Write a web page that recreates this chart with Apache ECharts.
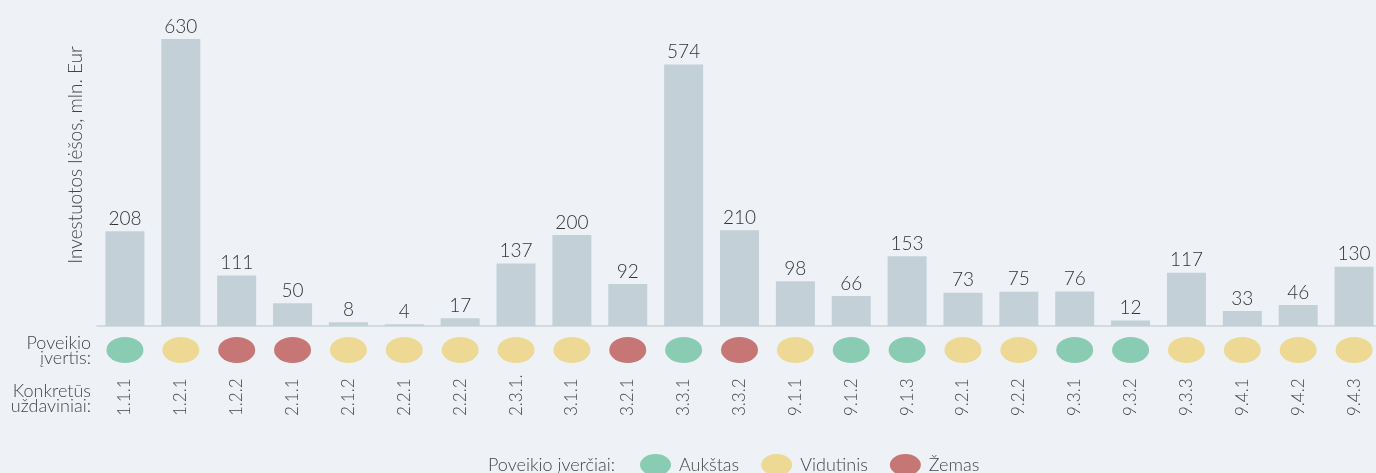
<!DOCTYPE html>
<html>
<head>
<meta charset="utf-8">
<script src="https://cdn.jsdelivr.net/npm/echarts@6/dist/echarts.min.js"></script>
<style>
  html, body { margin: 0; padding: 0; background: #eef2f7; }
  #chart { width: 1376px; height: 473px; }
</style>
</head>
<body>
<div id="chart"></div>
<script>
// uždaviniai (kategorijos)
var categories = ['1.1.1', '1.2.1', '1.2.2', '2.1.1', '2.1.2', '2.2.1', '2.2.2', '2.3.1.', '3.1.1', '3.2.1', '3.3.1',
  '3.3.2', '9.1.1', '9.1.2', '9.1.3', '9.2.1', '9.2.2', '9.3.1', '9.3.2', '9.3.3', '9.4.1', '9.4.2', '9.4.3'];
// investuotos lėšos, mln. Eur
var values = [208, 630, 111, 50, 8, 4, 17, 137, 200, 92, 574, 210, 98, 66, 153, 73, 75, 76, 12, 117, 33, 46, 130];
// poveikio įvertis: A - Aukštas, V - Vidutinis, Z - Žemas
var impact = ['A', 'V', 'Z', 'Z', 'V', 'V', 'V', 'V', 'V', 'Z', 'A', 'Z', 'V', 'A', 'A', 'V', 'V', 'A', 'A', 'V', 'V', 'V', 'V'];
var levels = [
  { key: 'A', name: 'Aukštas', color: '#8acbb3' },
  { key: 'V', name: 'Vidutinis', color: '#edd994' },
  { key: 'Z', name: 'Žemas', color: '#c67775' }
];

var FONT = 'Lato, "Noto Sans", sans-serif';
// elipsė (santykis ~1.41)
var ellipse = 'path://M0,35 A50,35 0 1,1 100,35 A50,35 0 1,1 0,35 Z';

var chart = echarts.init(document.getElementById('chart'));

// taškų serijos pagal poveikio lygį
var dotSeries = levels.map(function (lv) {
  return {
    name: lv.name,
    type: 'scatter',
    xAxisIndex: 1,
    yAxisIndex: 1,
    symbol: ellipse,
    symbolSize: [37, 26],
    symbolKeepAspect: false,
    itemStyle: { color: lv.color, opacity: 1 },
    silent: true,
    data: impact.map(function (k) { return k === lv.key ? 0 : '-'; })
  };
});

var option = {
  backgroundColor: '#eef2f7',
  animation: false,
  grid: [
    { left: 97, width: 1285, top: 39, bottom: 147, outerBoundsMode: 'none', containLabel: false },
    { left: 97, width: 1285, top: 337, height: 26, outerBoundsMode: 'none', containLabel: false }
  ],
  xAxis: [
    {
      type: 'category',
      gridIndex: 0,
      data: categories,
      axisLine: { show: true, lineStyle: { color: '#c8d3db', width: 1.5 } },
      axisTick: { show: false },
      axisLabel: {
        rotate: 90,
        align: 'left',
        verticalAlign: 'middle',
        margin: 90,
        fontSize: 17,
        fontWeight: 300,
        color: '#444',
        fontFamily: FONT,
        interval: 0
      }
    },
    {
      type: 'category',
      gridIndex: 1,
      data: categories,
      show: false
    }
  ],
  yAxis: [
    { type: 'value', gridIndex: 0, min: 0, max: 630, show: false, splitLine: { show: false } },
    { type: 'value', gridIndex: 1, min: -1, max: 1, show: false, splitLine: { show: false } }
  ],
  legend: {
    data: levels.map(function (lv) { return lv.name; }),
    left: 640,
    top: 454,
    padding: 0,
    icon: ellipse,
    itemWidth: 31,
    itemHeight: 22,
    itemGap: 22,
    textStyle: { fontSize: 18, fontWeight: 300, color: '#444', fontFamily: FONT, padding: [0, 0, 0, 3] }
  },
  graphic: [
    {
      type: 'text', x: 76, y: 155, rotation: Math.PI / 2,
      style: { text: 'Investuotos lėšos, mln. Eur', fill: '#444', fontSize: 19, fontWeight: 300, fontFamily: FONT,
               align: 'center', verticalAlign: 'middle' }
    },
    {
      type: 'text', x: 91, y: 336,
      style: { text: 'Poveikio\nįvertis:', fill: '#444', fontSize: 18, fontWeight: 300, fontFamily: FONT,
               align: 'right', verticalAlign: 'top', lineHeight: 15 }
    },
    {
      type: 'text', x: 91, y: 384,
      style: { text: 'Konkretūs\nuždaviniai:', fill: '#444', fontSize: 18, fontWeight: 300, fontFamily: FONT,
               align: 'right', verticalAlign: 'top', lineHeight: 15 }
    },
    {
      type: 'text', x: 488, y: 465,
      style: { text: 'Poveikio įverčiai:', fill: '#444', fontSize: 18, fontWeight: 300, fontFamily: FONT,
               align: 'left', verticalAlign: 'middle' }
    }
  ],
  series: [
    {
      name: 'Investuotos lėšos',
      type: 'bar',
      xAxisIndex: 0,
      yAxisIndex: 0,
      barWidth: 39,
      itemStyle: { color: '#c3d0d8' },
      label: {
        show: true,
        position: 'top',
        distance: 3,
        fontSize: 19,
        fontWeight: 300,
        color: '#333',
        fontFamily: FONT
      },
      silent: true,
      data: values
    }
  ].concat(dotSeries)
};

chart.setOption(option);
</script>
</body>
</html>
